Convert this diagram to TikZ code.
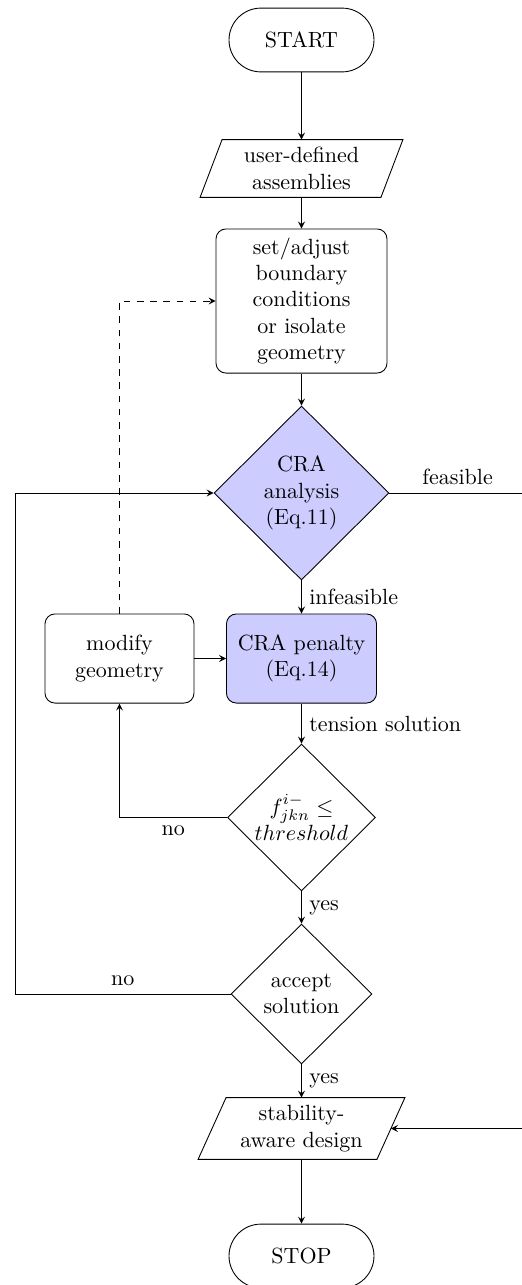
\documentclass[tikz,border=0pt]{standalone}
\usetikzlibrary{shapes.geometric,calc}
\begin{document}
\begin{tikzpicture}[x=0.4545pt,y=0.4545pt,>=stealth,
  term/.style={draw, rectangle, rounded corners=14.5pt, minimum width=65.9pt, minimum height=29pt, inner sep=0pt},
  proc/.style={draw, rectangle, rounded corners=4.5pt, align=center, inner sep=0pt},
  dec/.style={draw, diamond, align=center, inner sep=0pt},
  io/.style={rectangle, align=center, inner sep=0pt},
  hl/.style={fill=blue!20},
  arr/.style={->}]
\useasboundingbox (0,0) rectangle (522,-1285);
\clip (0,0) rectangle (522,-1285);

\node[term] (start) at (301.5,-40) {START};
\node[io, minimum width=81.8pt, minimum height=25.9pt] (in1) at (301.5,-168.5) {user-defined\\assemblies};
\draw ($(in1.north west)+(11,0)$) -- ($(in1.north east)+(11,0)$) -- ($(in1.south east)+(-11,0)$) -- ($(in1.south west)+(-11,0)$) -- cycle;
\node[proc, minimum width=77.7pt, minimum height=65.5pt] (bc) at (301.5,-301) {set/adjust\\boundary\\conditions\\or isolate\\geometry};
\node[dec, hl, minimum width=79.5pt, minimum height=79.1pt] (cra) at (301.5,-493) {CRA\\analysis\\(Eq.11)};
\node[proc, hl, minimum width=68.2pt, minimum height=40.5pt] (pen) at (301.5,-658.5) {CRA penalty\\(Eq.14)};
\node[proc, minimum width=67.7pt, minimum height=40.5pt] (mod) at (119.5,-658.5) {modify\\geometry};
\node[dec, minimum width=67.3pt, minimum height=66.8pt] (thr) at (301.5,-817.5) {$f^{i-}_{jkn}\leq$\\$threshold$};
\node[dec, minimum width=64.1pt, minimum height=63.6pt] (acc) at (301.5,-994) {accept\\solution};
\node[io, minimum width=80.9pt, minimum height=27.7pt] (stab) at (301.5,-1128.5) {stability-\\aware design};
\draw ($(stab.north west)+(14,0)$) -- ($(stab.north east)+(14,0)$) -- ($(stab.south east)+(-14,0)$) -- ($(stab.south west)+(-14,0)$) -- cycle;
\node[term] (stop) at (301.5,-1256) {STOP};

\coordinate (fr) at (560,-493);
\coordinate (fl) at (15,-994);

\draw[arr] (start) -- (in1);
\draw[arr] (in1) -- (bc);
\draw[arr] (bc) -- (cra);
\draw[arr] (cra) -- node[right]{infeasible} (pen);
\draw[arr] (mod) -- (pen);
\draw[arr,dashed] (mod.north) |- (bc.west);
\draw[arr] (pen) -- node[right]{tension solution} (thr);
\draw[arr] (thr.west) -| node[below, pos=0.25]{no} (mod.south);
\draw[arr] (thr) -- node[right]{yes} (acc);
\draw[arr] (acc) -- node[right]{yes} (stab);
\draw[arr] (stab) -- (stop);
\draw[arr] (acc.west) -- node[above]{no} (fl) |- (cra.west);
\draw[arr] (cra.east) -- node[above, pos=0.4]{feasible} (fr) |- (stab.east);
\end{tikzpicture}
\end{document}
